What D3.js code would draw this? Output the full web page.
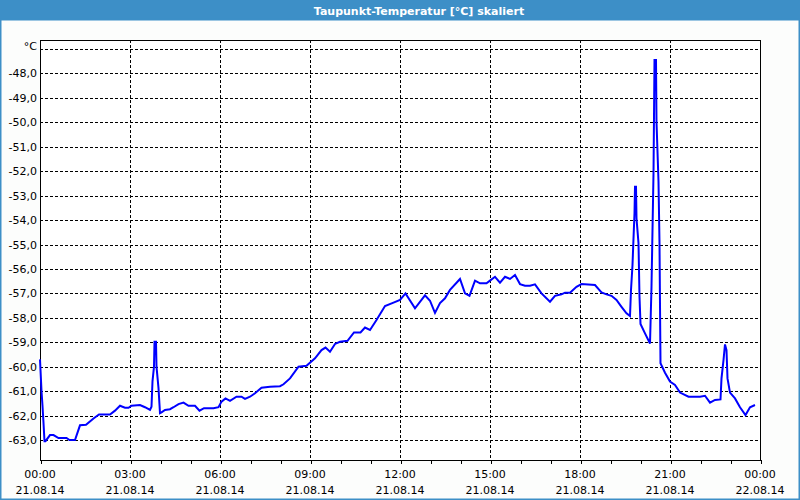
<!DOCTYPE html>
<html><head><meta charset="utf-8">
<script src="https://cdn.jsdelivr.net/npm/d3@7"></script>
<style>
html,body{margin:0;padding:0;background:#fcfdfc;}
svg{display:block;}
text{font-family:"DejaVu Sans",Verdana,sans-serif;font-size:11px;fill:#000;}
</style></head><body>
<svg id="chart" width="800" height="500"></svg>
<script>
const title = "Taupunkt-Temperatur [°C] skaliert";
const unitLabel = "°C";
// minutes since 21.08.14 00:00
const minutes = [0,3,5,7,9,11,20,27,37,53,59,70,80,92,107,118,140,150,160,170,177,183,200,210,220,223,225,228,229,232,233,237,240,243,250,260,267,277,287,297,310,319,328,347,357,363,371,380,393,403,410,420,430,443,460,480,487,500,517,533,550,563,571,580,590,600,615,628,641,650,660,673,690,707,720,731,750,770,780,790,800,810,820,840,850,859,870,880,893,900,910,920,930,940,950,960,970,980,990,1003,1020,1030,1043,1050,1060,1073,1083,1110,1123,1133,1143,1153,1163,1173,1180,1182,1185,1187,1189,1190,1192,1193,1197,1199,1201,1210,1220,1223,1225,1227,1228,1229,1232,1233,1237,1239,1240,1241,1250,1260,1270,1280,1297,1320,1330,1340,1350,1361,1363,1367,1370,1373,1375,1380,1390,1400,1411,1420,1430];
const dewPoint = [-59.7,-61.0,-61.6,-62.3,-63.05,-63.05,-62.8,-62.8,-62.92,-62.92,-63.0,-63.0,-62.4,-62.38,-62.12,-61.96,-61.96,-61.8,-61.6,-61.68,-61.68,-61.6,-61.57,-61.66,-61.77,-61.64,-60.6,-60.0,-58.98,-58.98,-60.0,-60.88,-61.9,-61.87,-61.77,-61.74,-61.66,-61.53,-61.47,-61.6,-61.6,-61.8,-61.7,-61.7,-61.66,-61.43,-61.3,-61.4,-61.23,-61.23,-61.32,-61.23,-61.09,-60.86,-60.82,-60.8,-60.72,-60.48,-60.0,-59.96,-59.66,-59.32,-59.22,-59.39,-59.07,-58.98,-58.94,-58.6,-58.6,-58.4,-58.5,-58.09,-57.52,-57.38,-57.27,-57.0,-57.61,-57.08,-57.3,-57.8,-57.4,-57.2,-56.86,-56.41,-57.0,-57.1,-56.48,-56.59,-56.59,-56.48,-56.32,-56.56,-56.32,-56.41,-56.25,-56.62,-56.69,-56.69,-56.63,-57.0,-57.34,-57.1,-57.04,-56.97,-56.97,-56.73,-56.62,-56.66,-56.96,-57.04,-57.1,-57.27,-57.55,-57.82,-57.93,-56.86,-55.84,-54.75,-53.72,-52.64,-52.64,-53.93,-54.95,-57.14,-58.25,-58.64,-59.05,-56.73,-54.41,-52.09,-49.77,-47.45,-47.45,-49.98,-52.43,-54.95,-57.48,-59.86,-60.25,-60.61,-60.75,-61.06,-61.23,-61.23,-61.19,-61.47,-61.36,-61.34,-60.48,-59.73,-59.09,-59.32,-60.48,-61.06,-61.3,-61.66,-61.98,-61.66,-61.57];
const yTicks = [-48,-49,-50,-51,-52,-53,-54,-55,-56,-57,-58,-59,-60,-61,-62,-63];
const yUnitTick = -47;
const xMajorHours = [0,3,6,9,12,15,18,21,24];
const xMinorHours = [0,1,2,3,4,5,6,7,8,9,10,11,12,13,14,15,16,17,18,19,20,21,22,23,24];

const W = 800, H = 500;
const m = {left:40, right:40, top:40, bottom:40};
const svg = d3.select("#chart");
const start = new Date(2014,7,21,0,0);
const end = new Date(2014,7,22,0,0);
const x = d3.scaleTime().domain([start,end]).range([m.left, W-m.right]);
const y = d3.scaleLinear().domain([-63.82,-46.63]).range([H-m.bottom, m.top]);
const tAt = mins => new Date(start.getTime() + mins*60000);

// background
svg.append("rect").attr("width",W).attr("height",H).attr("fill","#fcfdfc");
// title bar
svg.append("rect").attr("x",0).attr("y",0).attr("width",W).attr("height",20).attr("fill","#3d8fc7");
svg.append("text").attr("x",419).attr("y",14.5).attr("text-anchor","middle")
  .style("fill","#fff").style("font-weight","bold").style("font-size","11px").text(title);
// window border
svg.append("rect").attr("x",0.5).attr("y",19.5).attr("width",W-1).attr("height",H-20)
  .attr("fill","none").attr("stroke","#3d8fc7").attr("stroke-width",2);

const plot = svg.append("g");
plot.append("rect").attr("x",m.left).attr("y",m.top).attr("width",W-m.left-m.right).attr("height",H-m.top-m.bottom).attr("fill","#fff");

// horizontal grid
plot.selectAll("line.hg").data(yTicks.concat([yUnitTick])).join("line")
  .attr("x1",m.left).attr("x2",W-m.right)
  .attr("y1",d=>Math.round(y(d))+0.5).attr("y2",d=>Math.round(y(d))+0.5)
  .attr("stroke","#000").attr("stroke-dasharray","3,2").attr("shape-rendering","crispEdges");
// vertical grid
plot.selectAll("line.vg").data(xMajorHours.slice(1,-1)).join("line")
  .attr("x1",d=>Math.round(x(tAt(d*60)))+0.5).attr("x2",d=>Math.round(x(tAt(d*60)))+0.5)
  .attr("y1",m.top).attr("y2",H-m.bottom)
  .attr("stroke","#000").attr("stroke-dasharray","3,2").attr("shape-rendering","crispEdges");

// x axis ticks
const xAxis = d3.axisBottom(x).tickValues(xMinorHours.map(h=>tAt(h*60))).tickSize(4).tickFormat("");
const gx = svg.append("g").attr("transform",`translate(0.5,${H-m.bottom})`).call(xAxis);
gx.select(".domain").remove();
gx.selectAll("line").attr("stroke","#000").attr("shape-rendering","crispEdges");

const fTime = d3.timeFormat("%H:%M"), fDate = d3.timeFormat("%d.%m.%y");
const lbl = svg.append("g").selectAll("g").data(xMajorHours.map(h=>tAt(h*60))).join("g")
  .attr("transform",d=>`translate(${x(d)},0)`);
lbl.append("text").attr("y",478).attr("text-anchor","middle").text(d=>fTime(d));
lbl.append("text").attr("y",494).attr("text-anchor","middle").text(d=>fDate(d));

// y labels
const yFmt = v => d3.format(".1f")(v).replace(".",",").replace("−","-");
svg.append("g").selectAll("text").data(yTicks).join("text")
  .attr("x",37).attr("y",d=>y(d)+4).attr("text-anchor","end").text(d=>yFmt(d));
svg.append("text").attr("x",37).attr("y",y(yUnitTick)+1).attr("text-anchor","end").text(unitLabel);

// frame
plot.append("rect").attr("x",m.left+0.5).attr("y",m.top+0.5).attr("width",W-m.left-m.right).attr("height",H-m.top-m.bottom)
  .attr("fill","none").attr("stroke","#000").attr("shape-rendering","crispEdges");

// line
const data = minutes.map((mm,i)=>({t:tAt(mm), v:dewPoint[i]}));
plot.append("path").datum(data)
  .attr("d", d3.line().x(d=>x(d.t)).y(d=>y(d.v)))
  .attr("fill","none").attr("stroke","#0000ff").attr("stroke-width",2).attr("stroke-linejoin","miter");
</script>
</body></html>
